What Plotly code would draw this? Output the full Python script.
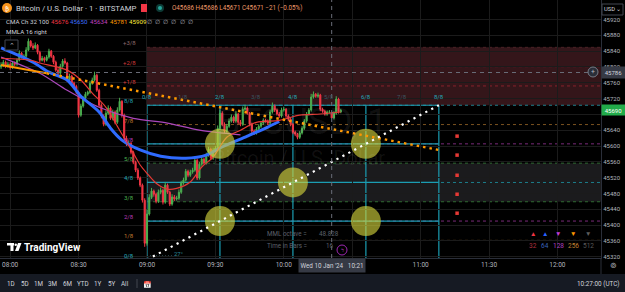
import pandas as pd
import plotly.graph_objects as go

FONT = "Roboto"
DAY = "2024-01-10 "

# ---------------- candle data (1-minute, 07:56 .. 10:25) ----------------
times = pd.date_range("2024-01-10 07:56", periods=150, freq="min")

opens = [
    45800, 45805, 45812, 45802, 45807, 45799, 45810, 45807, 45817, 45835,
    45825, 45827, 45843, 45865, 45853, 45848, 45855, 45837, 45817, 45822,
    45817, 45825, 45840, 45827, 45812, 45792, 45784, 45802, 45815, 45810,
    45767, 45777, 45759, 45751, 45736, 45678, 45701, 45721, 45731, 45736,
    45759, 45767, 45779, 45741, 45703, 45676, 45655, 45683, 45696, 45670,
    45686, 45660, 45691, 45713, 45678, 45620, 45605, 45607, 45584, 45559,
    45539, 45519, 45501, 45463, 45354, 45428, 45470, 45486, 45478, 45460,
    45483, 45488, 45458, 45501, 45483, 45453, 45471, 45466, 45468, 45483,
    45506, 45514, 45536, 45526, 45534, 45539, 45564, 45519, 45554, 45567,
    45557, 45577, 45592, 45569, 45590, 45595, 45645, 45683, 45655, 45638,
    45650, 45663, 45673, 45663, 45681, 45660, 45655, 45693, 45696, 45683,
    45655, 45638, 45633, 45643, 45650, 45658, 45665, 45663, 45658, 45686,
    45701, 45691, 45681, 45676, 45691, 45693, 45676, 45668, 45655, 45635,
    45630, 45622, 45633, 45645, 45663, 45681, 45691, 45724, 45731, 45726,
    45729, 45693, 45688, 45681, 45686, 45686, 45671, 45683, 45719, 45686,
]
highs = [
    45812, 45818, 45816, 45813, 45812, 45815, 45814, 45822, 45842, 45838,
    45832, 45850, 45872, 45868, 45860, 45862, 45858, 45841, 45828, 45826,
    45830, 45846, 45843, 45830, 45816, 45797, 45808, 45820, 45822, 45813,
    45783, 45780, 45763, 45755, 45740, 45707, 45726, 45737, 45740, 45765,
    45773, 45788, 45783, 45745, 45708, 45680, 45690, 45703, 45700, 45692,
    45690, 45698, 45722, 45716, 45682, 45626, 45614, 45610, 45588, 45563,
    45544, 45523, 45505, 45468, 45440, 45478, 45494, 45490, 45482, 45490,
    45495, 45492, 45508, 45505, 45487, 45478, 45476, 45474, 45490, 45512,
    45520, 45542, 45540, 45540, 45545, 45570, 45568, 45560, 45573, 45571,
    45583, 45598, 45596, 45596, 45600, 45652, 45692, 45688, 45660, 45656,
    45670, 45680, 45677, 45688, 45684, 45666, 45700, 45704, 45700, 45686,
    45659, 45642, 45648, 45655, 45663, 45670, 45669, 45667, 45692, 45710,
    45705, 45695, 45686, 45697, 45699, 45696, 45680, 45672, 45658, 45639,
    45633, 45638, 45650, 45668, 45686, 45696, 45732, 45738, 45734, 45735,
    45732, 45697, 45692, 45690, 45691, 45686, 45688, 45726, 45722, 45694,
]
lows = [
    45795, 45800, 45797, 45798, 45793, 45795, 45802, 45803, 45814, 45821,
    45820, 45824, 45840, 45849, 45843, 45845, 45832, 45812, 45814, 45811,
    45814, 45821, 45823, 45807, 45788, 45779, 45780, 45798, 45806, 45762,
    45763, 45754, 45746, 45731, 45672, 45674, 45697, 45717, 45727, 45732,
    45755, 45763, 45737, 45698, 45670, 45650, 45651, 45679, 45666, 45665,
    45655, 45656, 45687, 45672, 45614, 45600, 45600, 45579, 45554, 45534,
    45514, 45496, 45457, 45345, 45348, 45424, 45466, 45472, 45455, 45456,
    45478, 45452, 45454, 45479, 45448, 45449, 45461, 45462, 45464, 45479,
    45502, 45510, 45521, 45522, 45530, 45535, 45514, 45515, 45550, 45553,
    45553, 45573, 45564, 45565, 45586, 45591, 45640, 45650, 45633, 45634,
    45646, 45659, 45658, 45659, 45655, 45650, 45651, 45689, 45679, 45650,
    45633, 45628, 45629, 45639, 45646, 45654, 45659, 45653, 45654, 45682,
    45686, 45677, 45671, 45672, 45687, 45671, 45663, 45650, 45630, 45625,
    45617, 45618, 45629, 45641, 45659, 45677, 45687, 45720, 45722, 45722,
    45688, 45684, 45677, 45677, 45682, 45671, 45667, 45679, 45682, 45683,
]
closes = [
    45805, 45812, 45802, 45807, 45799, 45810, 45807, 45817, 45835, 45825,
    45827, 45843, 45865, 45853, 45848, 45855, 45837, 45817, 45822, 45817,
    45825, 45840, 45827, 45812, 45792, 45784, 45802, 45815, 45810, 45767,
    45777, 45759, 45751, 45736, 45678, 45701, 45721, 45731, 45736, 45759,
    45767, 45779, 45741, 45703, 45676, 45655, 45683, 45696, 45670, 45686,
    45660, 45691, 45713, 45678, 45620, 45605, 45607, 45584, 45559, 45539,
    45519, 45501, 45463, 45354, 45428, 45470, 45486, 45478, 45460, 45483,
    45488, 45458, 45501, 45483, 45453, 45471, 45466, 45468, 45483, 45506,
    45514, 45536, 45526, 45534, 45539, 45564, 45519, 45554, 45567, 45557,
    45577, 45592, 45569, 45590, 45595, 45645, 45683, 45655, 45638, 45650,
    45663, 45673, 45663, 45681, 45660, 45655, 45693, 45696, 45683, 45655,
    45638, 45633, 45643, 45650, 45658, 45665, 45663, 45658, 45686, 45701,
    45691, 45681, 45676, 45691, 45693, 45676, 45668, 45655, 45635, 45630,
    45622, 45633, 45645, 45663, 45681, 45691, 45724, 45731, 45726, 45729,
    45693, 45688, 45681, 45686, 45686, 45671, 45683, 45719, 45686, 45690,
]

# ---------------- moving averages ----------------
red_ma_t = ["07:56", "08:09", "08:13", "08:25", "08:31", "08:36", "08:42", "08:48", "08:54", "08:57",
            "09:00", "09:04", "09:09", "09:13", "09:19", "09:24", "09:29", "09:35", "09:41", "09:48",
            "09:58", "10:07", "10:16", "10:25"]
red_ma_v = [45822, 45817, 45810, 45792, 45767, 45734, 45698, 45640, 45582, 45552,
            45531, 45506, 45491, 45493, 45509, 45547, 45572, 45622, 45640, 45660,
            45665, 45678, 45681, 45686]

blue_ma_t = ["07:56", "08:10", "08:17", "08:25", "08:31", "08:39", "08:44", "08:49", "08:57", "09:06",
             "09:17", "09:26", "09:32", "09:44", "09:53", "09:58"]
blue_ma_v = [45848, 45812, 45787, 45767, 45726, 45686, 45645, 45615, 45590, 45574,
             45569, 45577, 45595, 45625, 45648, 45662]

mag_ma_t = ["07:56", "08:13", "08:25", "08:39", "08:54", "09:09", "09:23", "09:41"]
mag_ma_v = [45825, 45784, 45741, 45698, 45670, 45658, 45640, 45628]

orange_solid_t = ["07:56", "08:16"]
orange_solid_v = [45805, 45784]
orange_dot_t = ["08:16", "11:08"]
orange_dot_v = [45784, 45590]

# ---------------- Murrey math ----------------
mm_names = ["0/8", "1/8", "2/8", "3/8", "4/8", "5/8", "6/8", "7/8", "8/8", "+1/8", "+2/8", "+3/8"]
mm_levels = [45312.50, 45361.33, 45410.16, 45458.98, 45507.81, 45556.64,
             45605.47, 45654.30, 45703.13, 45751.95, 45800.78, 45849.61]
mm_label_colors = ["#26a6b8", "#c07a30", "#b83cb8", "#4caf50", "#26a6b8", "#4caf50",
                   "#b83cb8", "#c07a30", "#26a6b8", "#d03a3a", "#d03a3a", "#8a6a6a"]
mm_dash_colors = ["#1d7f8c", "#7a5220", "#7a2a7a", "#2f6a32", "#1d7f8c", "#2f6a32",
                  "#7a2a7a", "#7a5220", "#1d7f8c", "#86222c", "#86222c", "#4a2226"]

box_times = ["09:00", "09:32", "10:04", "10:36", "11:08"]
box_label_times = ["09:00", "09:16", "09:32", "09:48", "10:04", "10:20", "10:36", "10:52", "11:08"]
box_label_names = ["0/8", "1/8", "2/8", "3/8", "4/8", "5/8", "6/8", "7/8", "8/8"]

gann_t = ["09:00", "11:08"]
gann_v = [45312.50, 45703.13]

circle_t = ["09:32", "10:04", "09:32", "10:36", "10:36"]
circle_v = [45605.47, 45507.81, 45410.16, 45605.47, 45410.16]

red_dot_t = ["11:16", "11:16", "11:16", "11:16", "11:16"]
red_dot_v = [45625, 45577, 45526, 45478, 45430]

# tick labels hidden behind the crosshair / last-price labels are left blank (grid kept)
time_ticks = ["08:00", "08:30", "09:00", "09:30", "10:00", "10:30", "11:00", "11:30", "12:00"]
time_tick_text = ["08:00", "08:30", "09:00", "09:30", "10:00", "", "11:00", "11:30", "12:00"]
price_ticks = [45320, 45360, 45400, 45440, 45480, 45520, 45560, 45600, 45640,
               45680, 45720, 45760, 45800, 45840, 45880, 45920]
price_tick_text = ["45320", "45360", "45400", "45440", "45480", "45520", "45560", "45600", "45640",
                   "", "45720", "45760", "45800", "45840", "45880", "45920"]

legend_syms = ["▲", "▲", "▼", "▼", "▼"]
legend_nums = ["32", "64", "128", "256", "512"]
legend_colors = ["#f23645", "#2962ff", "#c23cd6", "#ff9800", "#5d5d5d"]
legend_num_colors = ["#b0303e", "#3a64b8", "#b040c0", "#c08030", "#5a5a5a"]

cma_vals = ["45676", "45650", "45634", "45781", "45909"]
cma_colors = ["#f23645", "#3d6cff", "#c040c0", "#ff9800", "#ffeb3b"]

GREEN = "#4caf50"
RED = "#f23645"
GRID = "#1b1b1b"
X_START = DAY + "07:55:32"
X_END = DAY + "12:19:07"
PW, PH = 601, 258


def PX(x):
    return x / PW


def PY(y):
    return (PH - y) / PH


def T(t):
    return DAY + t


fig = go.Figure()

fig.add_trace(go.Candlestick(
    x=times, open=opens, high=highs, low=lows, close=closes,
    increasing=dict(line=dict(color=GREEN, width=1), fillcolor=GREEN),
    decreasing=dict(line=dict(color=RED, width=1), fillcolor=RED),
    whiskerwidth=0, showlegend=False, hoverinfo="skip"))

fig.add_trace(go.Scatter(x=[T(t) for t in mag_ma_t], y=mag_ma_v, mode="lines",
                         line=dict(color="#ab47bc", width=1.2, shape="spline", smoothing=0.8),
                         hoverinfo="skip"))
fig.add_trace(go.Scatter(x=[T(t) for t in blue_ma_t], y=blue_ma_v, mode="lines",
                         line=dict(color="#2f6bff", width=3, shape="spline", smoothing=0.8),
                         hoverinfo="skip"))
fig.add_trace(go.Scatter(x=[T(t) for t in red_ma_t], y=red_ma_v, mode="lines",
                         line=dict(color="#e53935", width=1.2, shape="spline", smoothing=0.8),
                         hoverinfo="skip"))
fig.add_trace(go.Scatter(x=[T(t) for t in orange_solid_t], y=orange_solid_v, mode="lines",
                         line=dict(color="#ff9800", width=2), hoverinfo="skip"))

# yellow circles
fig.add_trace(go.Scatter(x=[T(t) for t in circle_t], y=circle_v, mode="markers",
                         marker=dict(size=30, color="rgba(215,215,60,0.62)", line=dict(width=0)),
                         hoverinfo="skip"))
# orange dotted trend
fig.add_trace(go.Scatter(x=[T(t) for t in orange_dot_t], y=orange_dot_v, mode="lines",
                         line=dict(color="#ff9800", width=2.5, dash="2.5px,4px"), hoverinfo="skip"))
# white gann diagonal
fig.add_trace(go.Scatter(x=[T(t) for t in gann_t], y=gann_v, mode="lines",
                         line=dict(color="#ffffff", width=2.2, dash="2.2px,4.5px"), hoverinfo="skip"))
# red dots
fig.add_trace(go.Scatter(x=[T(t) for t in red_dot_t], y=red_dot_v, mode="markers",
                         marker=dict(size=3.5, symbol="square", color="#e53935"), hoverinfo="skip"))

shapes = []
# zones
shapes.append(dict(type="rect", xref="x", yref="y", x0=T("09:00"), x1=X_END,
                   y0=mm_levels[8], y1=mm_levels[11], fillcolor="#34161a", line_width=0, layer="below"))
shapes.append(dict(type="rect", xref="x", yref="y", x0=T("09:00"), x1=X_END,
                   y0=mm_levels[3], y1=mm_levels[5], fillcolor="#1b1b1d", line_width=0, layer="below"))
# dashed level lines
for lv, col in zip(mm_levels, mm_dash_colors):
    shapes.append(dict(type="line", xref="x", yref="y", x0=T("09:00"), x1=X_END, y0=lv, y1=lv,
                       line=dict(color=col, width=1, dash="3px,3px"), layer="below"))
# murrey box
for k in (0, 2, 4, 6, 8):
    shapes.append(dict(type="line", xref="x", yref="y", x0=T(box_times[0]), x1=T(box_times[-1]),
                       y0=mm_levels[k], y1=mm_levels[k], line=dict(color="#1b9db2", width=1.2), layer="below"))
for bt in box_times:
    shapes.append(dict(type="line", xref="x", yref="y", x0=T(bt), x1=T(bt),
                       y0=mm_levels[0], y1=mm_levels[8], line=dict(color="#1b9db2", width=1.2), layer="below"))
# small 27 degree bracket
shapes.append(dict(type="line", xref="x", yref="y", x0=T("09:00"), x1=T("09:11"), y0=45322, y1=45322,
                   line=dict(color="#3d6870", width=1, dash="1px,2px"), layer="below"))
# crosshair
shapes.append(dict(type="line", xref="x", yref="paper", x0=T("10:21"), x1=T("10:21"), y0=0, y1=1,
                   line=dict(color="#6a6d78", width=1, dash="4px,4px"), layer="above"))
shapes.append(dict(type="line", xref="paper", yref="y", x0=0, x1=PX(588), y0=45786, y1=45786,
                   line=dict(color="#6a6d78", width=1, dash="4px,4px"), layer="above"))
# toolbar and axis frame pieces
shapes.append(dict(type="rect", xref="paper", yref="paper", x0=PX(0), x1=PX(625), y0=PY(292), y1=PY(274),
                   fillcolor="#161a23", line_width=0))
shapes.append(dict(type="line", xref="paper", yref="paper", x0=1, x1=1, y0=PY(258), y1=PY(274),
                   line=dict(color="#2a2e39", width=1)))
shapes.append(dict(type="line", xref="paper", yref="paper", x0=PX(137), x1=PX(137), y0=PY(279), y1=PY(288),
                   line=dict(color="#434651", width=1)))
# header icons
shapes.append(dict(type="circle", xref="paper", yref="paper", x0=PX(2), x1=PX(12), y0=PY(13), y1=PY(3),
                   fillcolor="#f7931a", line_width=0))
shapes.append(dict(type="rect", xref="paper", yref="paper", x0=PX(141), x1=PX(147), y0=PY(12), y1=PY(4),
                   fillcolor="#f23645", line_width=0))
shapes.append(dict(type="circle", xref="paper", yref="paper", x0=PX(156), x1=PX(164), y0=PY(12), y1=PY(4),
                   fillcolor="#0d3b36", line_width=0))
shapes.append(dict(type="circle", xref="paper", yref="paper", x0=PX(158), x1=PX(162), y0=PY(10), y1=PY(6),
                   fillcolor="#26a69a", line_width=0))
shapes.append(dict(type="rect", xref="paper", yref="paper", x0=PX(5), x1=PX(18), y0=PY(50), y1=PY(40),
                   fillcolor="#000000", line=dict(color="#434651", width=1)))
shapes.append(dict(type="rect", xref="paper", yref="paper", x0=PX(602), x1=PX(623), y0=PY(15), y1=PY(4),
                   fillcolor="#000000", line=dict(color="#434651", width=1)))
# crosshair plus icon
shapes.append(dict(type="circle", xref="paper", yref="paper", x0=PX(588), x1=PX(598), y0=PY(77), y1=PY(67),
                   fillcolor="#2a2e39", line=dict(color="#787b86", width=1)))
# signal icon
shapes.append(dict(type="circle", xref="paper", yref="paper", x0=PX(337), x1=PX(347), y0=PY(255), y1=PY(245),
                   fillcolor="#000000", line=dict(color="#9c27b0", width=1)))
# TradingView logo
shapes.append(dict(type="rect", xref="paper", yref="paper", x0=PX(7), x1=PX(14), y0=PY(245.5), y1=PY(243),
                   fillcolor="#ffffff", line_width=0))
shapes.append(dict(type="rect", xref="paper", yref="paper", x0=PX(10.5), x1=PX(13.5), y0=PY(251), y1=PY(243),
                   fillcolor="#ffffff", line_width=0))
shapes.append(dict(type="circle", xref="paper", yref="paper", x0=PX(14.5), x1=PX(17), y0=PY(246), y1=PY(243.5),
                   fillcolor="#ffffff", line_width=0))
shapes.append(dict(type="path", xref="paper", yref="paper",
                   path=f"M {PX(18)} {PY(243)} L {PX(21.5)} {PY(243)} L {PX(18.5)} {PY(251)} L {PX(15)} {PY(251)} Z",
                   fillcolor="#ffffff", line_width=0))

fig.update_layout(shapes=shapes)

anns = []


def ann(text, x, y, size=6.5, color="#d1d4dc", xanchor="left", **kw):
    d = dict(xref="paper", yref="paper", x=PX(x), y=PY(y), text=text, showarrow=False,
             font=dict(size=size, color=color, family=FONT), xanchor=xanchor, yanchor="middle",
             borderpad=0)
    d.update(kw)
    anns.append(d)


# watermark (kept clear of the box-top labels)
ann("BTCUSD, 1", 302, 122, size=36, color="rgba(255,255,255,0.07)", xanchor="center")
ann("Bitcoin / U.S. Dollar", 299, 158, size=20, color="rgba(255,255,255,0.07)", xanchor="center")

# header
ann("₿", 7, 8, size=6, color="#ffffff", xanchor="center")
ann("Bitcoin / U.S. Dollar · 1 · BITSTAMP", 15, 8, size=7.8)
ann("O45686 H45686 L45671 C45671 −21 (−0.05%)", 171, 8, size=6.3, color="#ee9a6a")
ann("CMA Ch 32 100", 5, 22, size=6.2)
for xv, txt, col in zip([50, 69, 89, 109, 128], cma_vals, cma_colors):
    ann(txt, xv, 22, size=6.2, color=col)
for xv in [149, 157, 165, 173, 182, 190]:
    ann("∅", xv, 22, size=6.2, color="#b2b5be", xanchor="center")
ann("MMLA 16 right", 5, 32, size=6.2)
ann("⌃", 11.5, 46, size=7, color="#b2b5be", xanchor="center")

# murrey labels (left of box)
for name, lv, col in zip(mm_names, mm_levels, mm_label_colors):
    anns.append(dict(xref="paper", yref="y", x=PX(129), y=lv + 11.4, text=name, showarrow=False,
                     font=dict(size=6, color=col, family=FONT), xanchor="center", yanchor="middle"))
# labels along the box top
for i, (bt, name) in enumerate(zip(box_label_times, box_label_names)):
    col = "#26a6b8" if i % 2 == 0 else "#3f5560"
    anns.append(dict(xref="x", yref="y", x=T(bt), y=mm_levels[8] + 23, text=name, showarrow=False,
                     font=dict(size=6, color=col, family=FONT), xanchor="center", yanchor="middle"))
anns.append(dict(xref="x", yref="y", x=T("09:14"), y=45328, text="27°", showarrow=False,
                 font=dict(size=6, color="#2a8a9a", family=FONT), xanchor="center", yanchor="middle"))

# info table
ann("MML octave =", 266, 234, size=6.3, color="#5d606b")
ann("48.828", 318, 234, size=6.3, color="#5d606b")
ann("Time in Bars =", 266, 246, size=6.3, color="#5d606b")
ann("16", 325, 246, size=6.3, color="#5d606b")
ann("ϟ", 342, 250, size=6.5, color="#c040d0", xanchor="center")

# legend bottom right
for xv, s, n, c1, c2 in zip([533, 545, 558, 573, 588], legend_syms, legend_nums, legend_colors, legend_num_colors):
    ann(s, xv, 234, size=6.5, color=c1, xanchor="center")
    ann(n, xv, 246, size=6.5, color=c2, xanchor="center")

# TradingView logo text
ann("<b>TradingView</b>", 23, 247, size=10, color="#ffffff")

# price axis extras
ann("USD ⌄", 612.5, 9.5, size=5.8, color="#d1d4dc", xanchor="center")
ann("+", 593, 72, size=7, color="#b2b5be", xanchor="center")
anns.append(dict(xref="paper", yref="y", x=1, y=45786, text="45786", showarrow=False,
                 font=dict(size=6, color="#d1d4dc", family=FONT), xanchor="left", yanchor="middle",
                 bgcolor="#363a45", width=23, height=11, borderpad=0))
anns.append(dict(xref="paper", yref="y", x=1, y=45690, text="45690", showarrow=False,
                 font=dict(size=6, color="#ffffff", family=FONT), xanchor="left", yanchor="middle",
                 bgcolor="#22ab4a", width=23, height=10, borderpad=0))

# time axis crosshair label
anns.append(dict(xref="x", yref="paper", x=T("10:21"), y=PY(265), text="Wed 10 Jan '24   10:21",
                 showarrow=False, font=dict(size=6.3, color="#d1d4dc", family=FONT),
                 xanchor="center", yanchor="middle", bgcolor="#363a45", width=66, height=13, borderpad=0))
ann("⊚", 613, 265, size=8, color="#b2b5be", xanchor="center")

# bottom toolbar
for xv, txt in zip([11, 25, 38, 52, 67, 83, 98, 112, 125],
                   ["1D", "5D", "1M", "3M", "6M", "YTD", "1Y", "5Y", "All"]):
    ann(txt, xv, 284, size=6.3, color="#d1d4dc", xanchor="center")
ann("📅", 147, 284, size=7, color="#b2b5be", xanchor="center")
ann("10:27:00 (UTC)", 621, 284, size=6.4, color="#d1d4dc", xanchor="right")

fig.update_layout(
    annotations=anns,
    width=625, height=292,
    margin=dict(l=0, r=24, t=0, b=34),
    paper_bgcolor="#000000", plot_bgcolor="#000000",
    showlegend=False,
    xaxis=dict(type="date", range=[X_START, X_END], rangeslider=dict(visible=False),
               tickvals=[T(t) for t in time_ticks], ticktext=time_tick_text,
               showgrid=True, gridcolor=GRID, gridwidth=1, zeroline=False,
               showline=True, linecolor="#2a2e39", linewidth=1, ticks="",
               tickfont=dict(size=6.5, color="#b2b5be", family=FONT), fixedrange=True),
    yaxis=dict(side="right", range=[45316.7, 45969.4], tickvals=price_ticks,
               ticktext=price_tick_text,
               showgrid=True, gridcolor=GRID, gridwidth=1, zeroline=False,
               showline=True, linecolor="#2a2e39", linewidth=1, ticks="",
               tickfont=dict(size=6, color="#b2b5be", family=FONT), fixedrange=True),
)

fig.write_html("out.html", config={"displayModeBar": False})
